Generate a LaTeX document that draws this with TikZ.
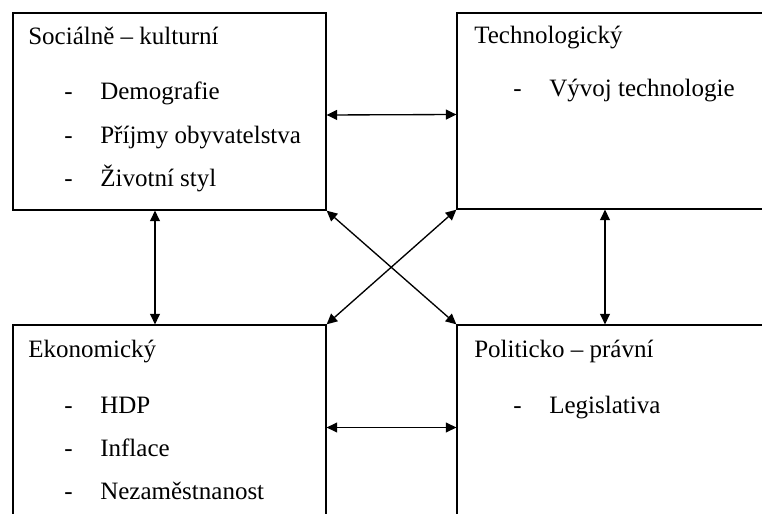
\documentclass[tikz,border=0pt]{standalone}
\usepackage{fontspec}
\setmainfont{Liberation Serif}
\usetikzlibrary{arrows.meta,fit}

\tikzset{
  box/.style={draw,line width=0.8pt,inner sep=0pt},
  txt/.style={anchor=base west,inner sep=0pt,font=\fontsize{15}{18}\selectfont},
  link/.style={line width=0.8pt,{Triangle[length=6.3pt,width=6pt]}-{Triangle[length=6.3pt,width=6pt]}}
}

\begin{document}
\begin{tikzpicture}[x=0.6pt,y=-0.6pt]
  \def \DL {64}
  \def \IL {100}
  \def \DR {513}
  \def \IR {549}
  \useasboundingbox (0,0) rectangle (762,514);
  \clip (0,0) rectangle (762,514);

  \node[box,fit={(13,13) (326,210)}] (soc) {};
  \node[box,fit={(457,13) (780,209)}] (tech) {};
  \node[box,fit={(13,325) (326,530)}] (eco) {};
  \node[box,fit={(457,325) (780,530)}] (pol) {};

  \node[txt] (soc-t) at (28,45) {Sociálně -- kulturní};
  \node[txt] (tech-t) at (474,44) {Technologický};
  \node[txt] (eco-t) at (28,357) {Ekonomický};
  \node[txt] (pol-t) at (474,357) {Politicko -- právní};

  \foreach \txt [count=\i] in {Demografie, Příjmy obyvatelstva, Životní styl} {
    \node[txt] (soc-d\i) at (\DL,{100+43.3*(\i-1)}) {-};
    \node[txt] (soc-\i) at (\IL,{100+43.3*(\i-1)}) {\txt};
  }
  \foreach \txt [count=\i] in {HDP, Inflace, Nezaměstnanost} {
    \node[txt] (eco-d\i) at (\DL,{413.7+43*(\i-1)}) {-};
    \node[txt] (eco-\i) at (\IL,{413.7+43*(\i-1)}) {\txt};
  }
  \node[txt] (tech-d1) at (\DR,97) {-};
  \node[txt] (tech-1) at (\IR,97) {Vývoj technologie};
  \node[txt] (pol-d1) at (\DR,413) {-};
  \node[txt] (pol-1) at (\IR,413) {Legislativa};

  \draw[link] ([yshift=-2.1pt]soc.east) -- ([yshift=-2.1pt]tech.west);
  \draw[link] (eco.east) -- (pol.west);
  \draw[link] ([xshift=-8.7pt]soc.south) -- ([xshift=-8.7pt]eco.north);
  \draw[link] ([xshift=-8.1pt]tech.south) -- ([xshift=-8.1pt]pol.north);
  \draw[link] (soc.south east) -- (pol.north west);
  \draw[link] (tech.south west) -- (eco.north east);

\end{tikzpicture}
\end{document}
